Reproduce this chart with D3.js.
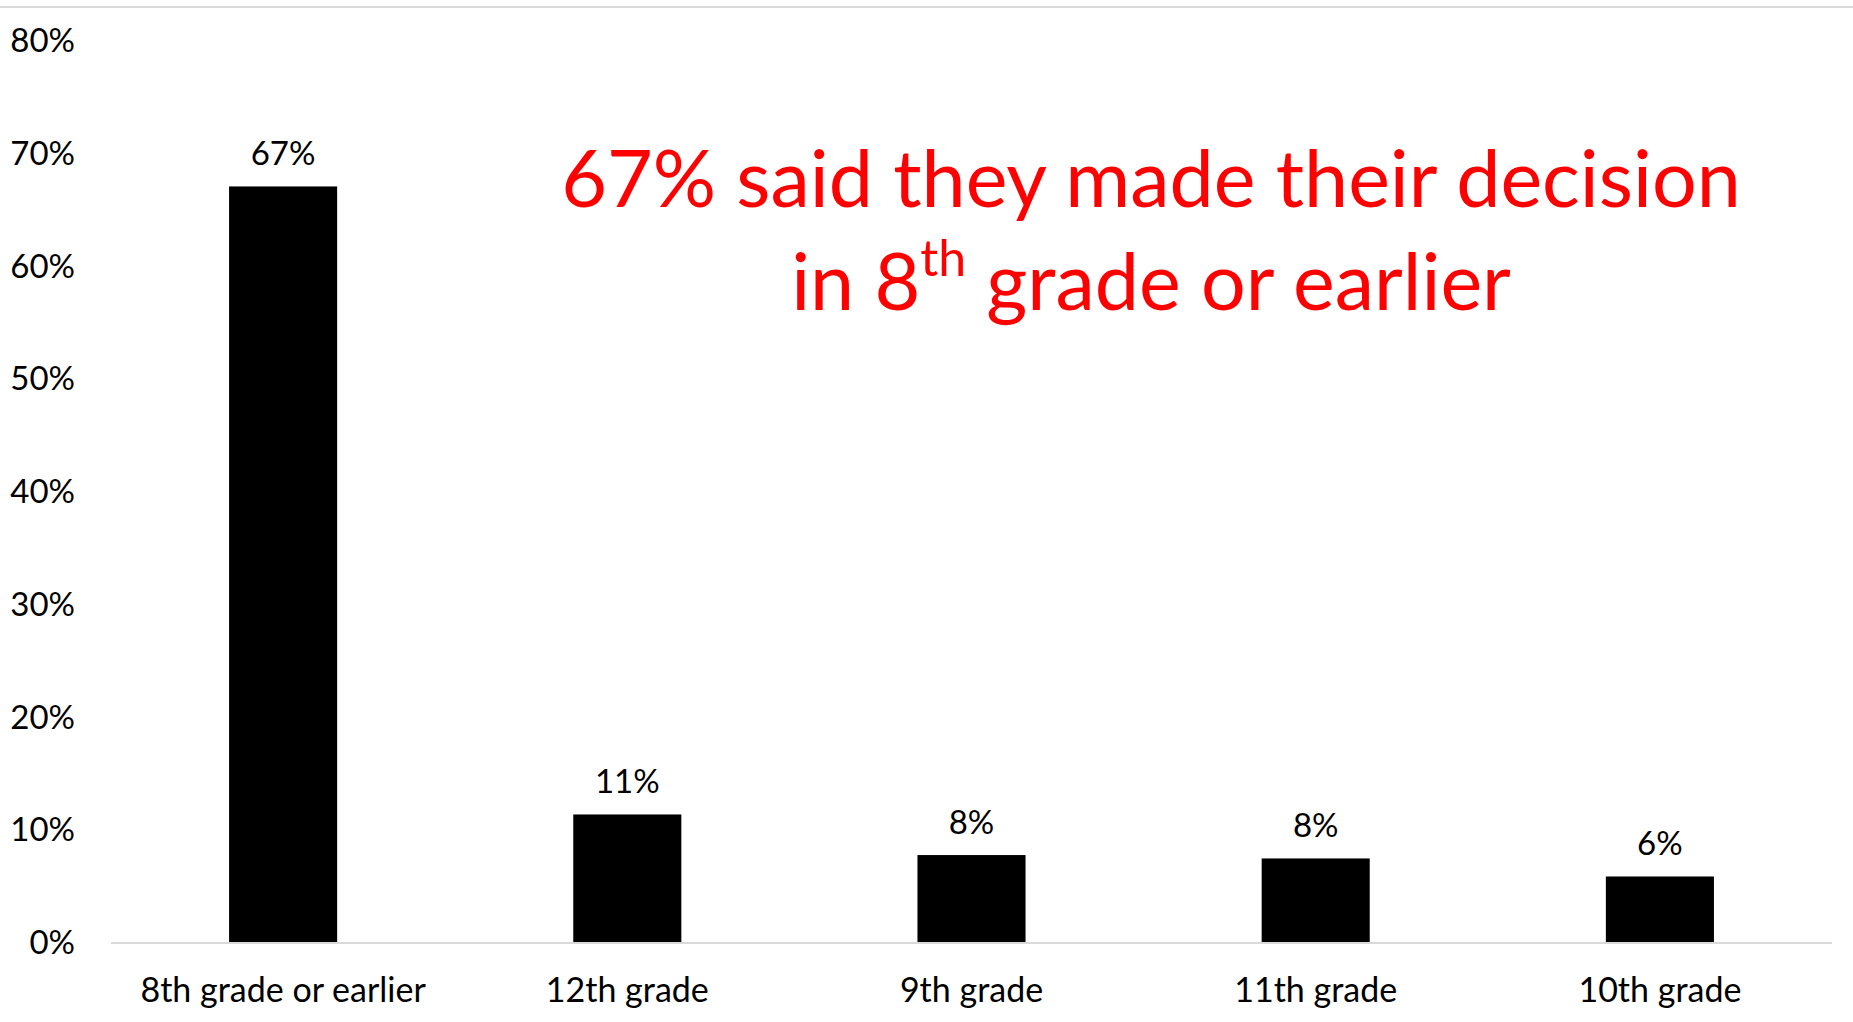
<!DOCTYPE html>
<html>
<head>
<meta charset="utf-8">
<script src="https://cdn.jsdelivr.net/npm/d3@7"></script>
<style>
  html, body { margin: 0; padding: 0; background: #fff; }
  svg { display: block; }
  text { font-family: Lato, "Open Sans", sans-serif; }
</style>
</head>
<body>
<svg id="chart" width="1853" height="1022"></svg>
<script>
const categories = ["8th grade or earlier", "12th grade", "9th grade", "11th grade", "10th grade"];
const values = [0.671, 0.114, 0.078, 0.075, 0.059];
const valueLabels = ["67%", "11%", "8%", "8%", "6%"];
const yTicks = [0, 0.1, 0.2, 0.3, 0.4, 0.5, 0.6, 0.7, 0.8];
const titleLine1 = "67% said they made their decision";
const titleLine2 = ["in 8", "th", " grade or earlier"];

const W = 1853, H = 1022;
const margin = { left: 111, right: 21, top: 41, bottom: 79 };
const svg = d3.select("#chart");

const x = d3.scaleBand()
  .domain(categories)
  .range([margin.left, W - margin.right])
  .paddingInner(0.686)
  .paddingOuter(0.343);

const y = d3.scaleLinear()
  .domain([0, 0.8])
  .range([H - margin.bottom, margin.top]);

// top border line
svg.append("line")
  .attr("x1", 0).attr("x2", W)
  .attr("y1", 7).attr("y2", 7)
  .attr("stroke", "#d9d9d9").attr("stroke-width", 2);

// y axis labels
const yAxis = d3.axisLeft(y).tickValues(yTicks).tickFormat(d3.format(".0%")).tickSize(0).tickPadding(0);
const yg = svg.append("g").attr("transform", `translate(75,0)`).call(yAxis);
yg.select(".domain").remove();
yg.selectAll("text").attr("font-size", 33).attr("fill", "#000").attr("font-family", "Lato");

// bars
svg.append("g").selectAll("rect").data(categories).join("rect")
  .attr("x", d => x(d))
  .attr("width", x.bandwidth())
  .attr("y", (d, i) => y(values[i]))
  .attr("height", (d, i) => y(0) - y(values[i]))
  .attr("fill", "#000");

// baseline
svg.append("line")
  .attr("x1", margin.left).attr("x2", W - margin.right)
  .attr("y1", y(0)).attr("y2", y(0))
  .attr("stroke", "#d9d9d9").attr("stroke-width", 2);

// x axis labels
const xAxis = d3.axisBottom(x).tickSize(0).tickPadding(0);
const xg = svg.append("g").attr("transform", `translate(0,${y(0) + 59})`).call(xAxis);
xg.select(".domain").remove();
xg.selectAll("text").attr("font-size", 34).attr("fill", "#000").attr("font-family", "Lato").attr("dy", "0");

// value labels
svg.append("g").selectAll("text").data(categories).join("text")
  .attr("x", d => x(d) + x.bandwidth() / 2)
  .attr("y", (d, i) => y(values[i]) - 21)
  .attr("text-anchor", "middle")
  .attr("font-size", 33)
  .attr("fill", "#000")
  .text((d, i) => valueLabels[i]);

// annotation
const ann = svg.append("g").attr("fill", "#ff0000").attr("text-anchor", "middle");
ann.append("text")
  .attr("x", 1151).attr("y", 207)
  .attr("font-size", 79)
  .text(titleLine1);
const t2 = ann.append("text").attr("x", 1151).attr("y", 310).attr("font-size", 79);
t2.append("tspan").text(titleLine2[0]);
t2.append("tspan").attr("font-size", 50).attr("dy", -34).text(titleLine2[1]);
t2.append("tspan").attr("dy", 34).text(titleLine2[2]);
</script>
</body>
</html>
